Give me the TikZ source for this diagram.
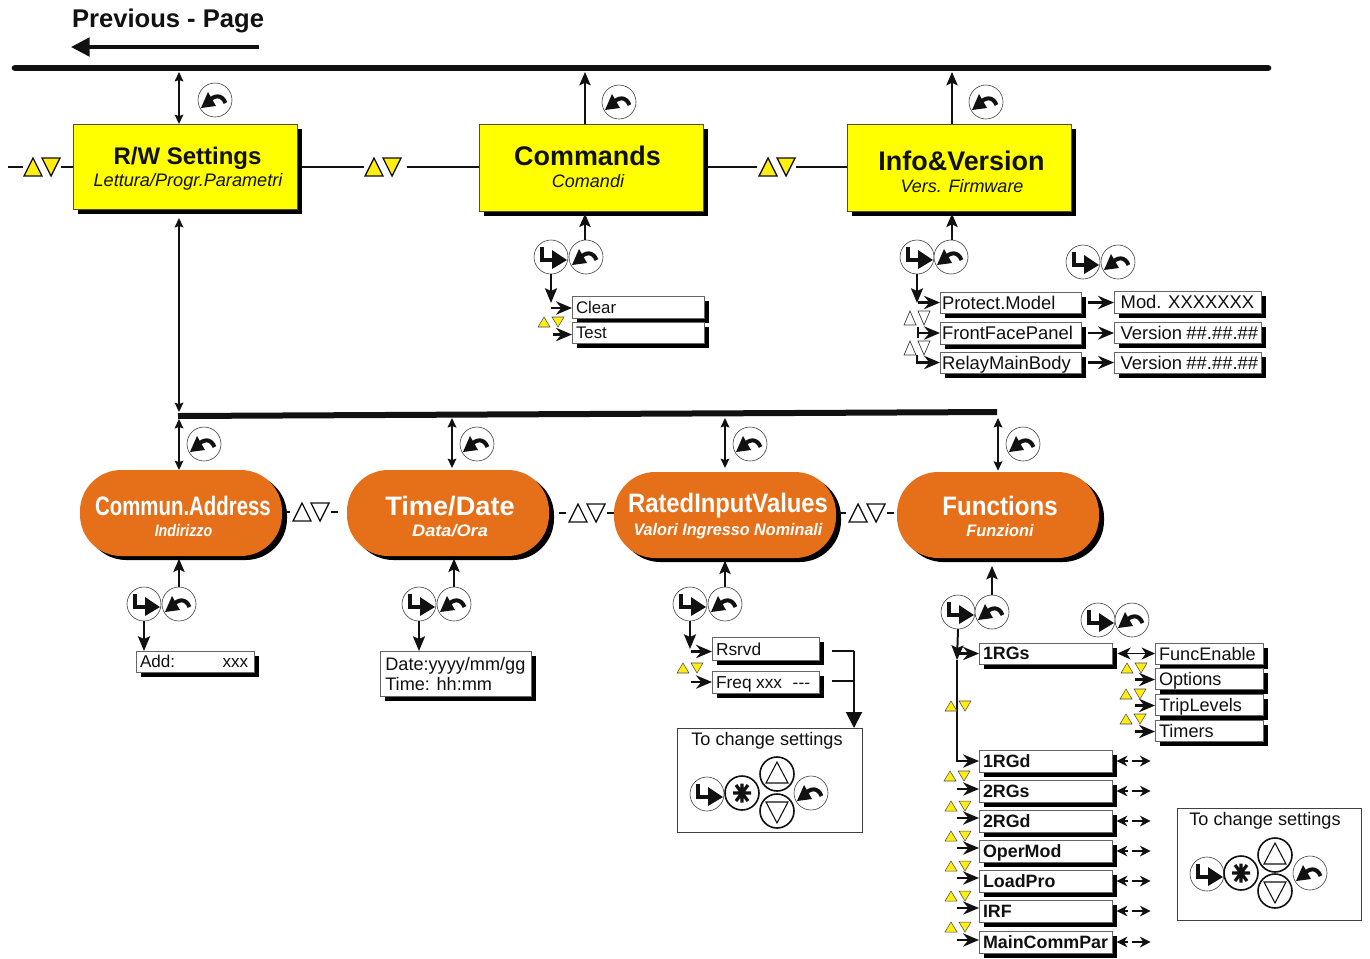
\documentclass[tikz,border=0pt]{standalone}
\usepackage{fontspec}
\usepackage{graphicx}
\setmainfont{Liberation Sans}
\usetikzlibrary{arrows.meta}
\definecolor{boxyellow}{HTML}{FFFF00}
\definecolor{triyellow}{HTML}{FFEE10}
\definecolor{boxorange}{HTML}{E6701A}
\definecolor{ink}{HTML}{111111}
\tikzset{
  x=0.75pt,y=-0.75pt,
  every node/.style={text=ink,inner sep=0pt,outer sep=0pt},
  heavy/.style={draw=ink,line width=1.8pt,-{Stealth[length=12pt,width=10pt,inset=4pt]}},
  thin arrow/.style={draw=ink,line width=1.15pt,{Stealth[length=7pt,width=6.5pt,inset=1pt]}-{Stealth[length=7pt,width=6.5pt,inset=1pt]}},
  up arrow/.style={draw=ink,line width=1.4pt,-{Stealth[length=10pt,width=8.5pt,inset=2pt]}},
  down arrow/.style={draw=ink,line width=1.5pt,-{Stealth[length=11pt,width=9pt,inset=2pt]}},
  big down/.style={draw=ink,line width=1.5pt,-{Triangle[length=12pt,width=12pt]}},
  wire/.style={draw=ink,line width=1.2pt},
  bus/.style={draw=ink,line width=5pt,line cap=round},
  tri/.style={draw=ink,line width=1pt,line join=miter},
  smalltri/.style={draw=black!70,line width=0.4pt,line join=miter},
  whitetri/.style={draw=black!80,line width=0.5pt,line join=miter},
  btn/.style={circle,draw=black!75,line width=0.45pt,minimum size=25.5pt,fill=white},
  btnbold/.style={circle,draw=ink,line width=1.2pt,minimum size=25.5pt,fill=white},
  yellowbox/.style={draw=black!70,line width=0.5pt,fill=boxyellow},
  orangebox/.style={draw=none,fill=boxorange,rounded corners=31pt},
  plainbox/.style={draw=black!60,line width=0.5pt,fill=white,align=left,text depth=0pt},
  framebox/.style={draw=black!75,line width=0.5pt,fill=white},
  ytitle/.style={font=\bfseries\fontsize{20.2}{23}\selectfont},
  ysub/.style={font=\itshape\fontsize{13.5}{16}\selectfont},
  otitle/.style={text=white,font=\bfseries\fontsize{20}{24}\selectfont},
  osub/.style={text=white,font=\bfseries\itshape\fontsize{12.5}{15}\selectfont},
}
\newcommand\shbox[6]{%
  \fill[black] ({#3+5},{#4+5}) rectangle ({#5+5},{#6+5});
  \node[#1,anchor=center,minimum width={(#5-#3)*0.75pt},minimum height={(#6-#4)*0.75pt}] (#2) at ({(#3+#5)/2},{(#4+#6)/2}) {};}
\newcommand\shpill[6]{%
  \fill[black,rounded corners=31pt] ({#3+5},{#4+4}) rectangle ({#5+5},{#6+4});
  \node[#1,anchor=center,minimum width={(#5-#3)*0.75pt},minimum height={(#6-#4)*0.75pt}] (#2) at ({(#3+#5)/2},{(#4+#6)/2}) {};}
\newcommand\lbox[6]{%
  \fill[black] ({#2+5},{#3+5}) rectangle ({#4+5},{#5+5});
  \node[plainbox,anchor=center,minimum height={(#5-#3)*0.75pt},text width={(#4-#2-8)*0.75pt},inner xsep=3pt] (#1) at ({(#2+#4)/2},{(#3+#5)/2}) {#6};}
\newcommand\updn[4]{%
  \path[tri,fill=#4] ({#1-2*#3},{#2+#3}) -- ({#1-#3},{#2-#3}) -- (#1,{#2+#3}) -- cycle;
  \path[tri,fill=#4] (#1,{#2-#3}) -- ({#1+2*#3},{#2-#3}) -- ({#1+#3},{#2+#3}) -- cycle;}
\newcommand\updnsmall[2]{%
  \path[smalltri,fill=triyellow] ({#1-13},{#2+5}) -- ({#1-7},{#2-5}) -- ({#1-1},{#2+5}) -- cycle;
  \path[smalltri,fill=triyellow] ({#1+1},{#2-5}) -- ({#1+13},{#2-5}) -- ({#1+7},{#2+5}) -- cycle;}
\newcommand\updnwhite[2]{%
  \path[whitetri,fill=white] ({#1-13},{#2+7}) -- ({#1-7},{#2-7}) -- ({#1-1},{#2+7}) -- cycle;
  \path[whitetri,fill=white] ({#1+1},{#2-7}) -- ({#1+13},{#2-7}) -- ({#1+7},{#2+7}) -- cycle;}
\newcommand\entbtn[3]{%
  \node[btn] (#1) at (#2,#3) {};
  \begin{scope}[shift={(#2,#3)}]
    \draw[ink,line width=3.6pt] (-9,-10) -- (-9,3) -- (5,3);
    \fill[ink] (1,-7) -- (16,3) -- (1,12) -- cycle;
  \end{scope}}
\newcommand\escbtn[3]{%
  \node[btn] (#1) at (#2,#3) {};
  \begin{scope}[shift={(#2,#3)}]
    \draw[ink,line width=3pt] (-6,1) .. controls (-1,-5) and (7,-6) .. (10.5,3);
    \fill[ink] (-14,8) -- (-7,-8) -- (1,6) -- cycle;
  \end{scope}}
\newcommand\starbtn[3]{%
  \node[btnbold] (#1) at (#2,#3) {};
  \begin{scope}[shift={(#2,#3)}]
    \draw[ink,line width=2.4pt] (-9,0) -- (9,0) (-6,-8) -- (6,8) (-6,8) -- (6,-8) (0,-9.5) -- (0,9.5);
  \end{scope}}
\newcommand\upbtn[3]{%
  \node[btnbold] (#1) at (#2,#3) {};
  \draw[ink,line width=0.8pt,line join=miter] ({#2-11},{#3+9}) -- (#2,{#3-12}) -- ({#2+11},{#3+9}) -- cycle;}
\newcommand\dnbtn[3]{%
  \node[btnbold] (#1) at (#2,#3) {};
  \draw[ink,line width=0.8pt,line join=miter] ({#2-11},{#3-9}) -- (#2,{#3+12}) -- ({#2+11},{#3-9}) -- cycle;}
% arrow into west side of a box: name, length px, rise px
\newcommand\into[3]{\draw[heavy] ([xshift=-#2*0.75pt,yshift=#3*0.75pt]#1.west) -- ([yshift=#3*0.75pt]#1.west);}
\newcommand\outdash[1]{%
  \draw[draw=ink,line width=1.3pt,-{Stealth[length=8pt,width=8pt,inset=2.5pt]}] ([xshift=12pt]#1.east) -- ([xshift=3.5pt]#1.east);
  \draw[draw=ink,line width=1.3pt,-{Stealth[length=8pt,width=8pt,inset=2.5pt]}] ([xshift=15pt]#1.east) -- ([xshift=29pt]#1.east);}
\newcommand\sq[2]{\scalebox{#1}[1]{#2}}
\begin{document}
\begin{tikzpicture}
\useasboundingbox (0,0) rectangle (1370,958);
\fill[white] (0,0) rectangle (1370,958);

% title
\node[anchor=west,font=\bfseries\fontsize{19.2}{22}\selectfont] (title) at (72,20.5) {Previous - Page};
\coordinate (prevA) at (259,47);
\coordinate (prevB) at (71,47);
\draw[draw=ink,line width=2.4pt,-{Triangle[length=14pt,width=14pt]}] (prevA) -- (prevB);

% buses
\coordinate (busL) at (15,68);
\coordinate (busR) at (1268,68);
\draw[bus] (busL) -- (busR);
\coordinate (subL) at (178,416);
\coordinate (subR) at (997,412);
\draw[bus,line width=4.5pt,line cap=butt] (subL) -- (subR);

% yellow boxes
\shbox{yellowbox}{rw}{73}{124}{297}{209}
\shbox{yellowbox}{cmd}{479}{124}{703}{211}
\shbox{yellowbox}{info}{847}{124}{1071}{211}
\node[ytitle,font=\bfseries\fontsize{18}{21}\selectfont] (rwT) at (187.5,158) {R/W Settings};
\node[ysub,font=\itshape\fontsize{13.6}{16}\selectfont] (rwS) at (188,181.5) {Lettura/Progr.Parametri};
\node[ytitle] (cmdT) at (587.5,156) {Commands};
\node[ysub] (cmdS) at (588,181) {Comandi};
\node[ytitle] (infoT) at (961.5,161) {Info\&Version};
\node[ysub] (infoS) at (962,186) {Vers. Firmware};

% orange boxes
\shpill{orangebox}{addr}{80}{470}{282}{556}
\shpill{orangebox}{tdate}{347}{470}{549}{556}
\shpill{orangebox}{rated}{614}{472}{836}{558}
\shpill{orangebox}{func}{897}{472}{1099}{558}
\node[otitle] (addrT) at (183,506) {\sq{0.765}{Commun.Address}};
\node[osub] (addrS) at (183.5,531) {\sq{0.85}{Indirizzo}};
\node[otitle] (tdateT) at (450,506) {\sq{1.02}{Time/Date}};
\node[osub] (tdateS) at (450,531) {\sq{1.09}{Data/Ora}};
\node[otitle] (ratedT) at (728,506) {\sq{0.893}{RatedInputValues}};
\node[osub] (ratedS) at (728,531) {\sq{0.97}{Valori Ingresso Nominali}};
\node[otitle] (funcT) at (1000,506) {\sq{0.905}{Functions}};
\node[osub] (funcS) at (1000,531) {\sq{0.98}{Funzioni}};

% bus connections
\coordinate (t1) at (179,72);
\draw[thin arrow] (t1) -- (t1 |- rw.north);
\coordinate (t2) at (585,72);
\draw[up arrow] (t2 |- cmd.north) -- (t2);
\coordinate (t3) at (952,72);
\draw[up arrow] (t3 |- info.north) -- (t3);
\coordinate (s0) at (179,218);
\coordinate (s0b) at (179,412);
\draw[thin arrow] (s0) -- (s0b);
\coordinate (s1) at (179,419);
\draw[thin arrow] (s1) -- (s1 |- addr.north);
\coordinate (s2) at (452,418);
\draw[thin arrow] (s2) -- ([yshift=1.5pt]s2 |- tdate.north);
\coordinate (s3) at (725,418);
\draw[thin arrow] (s3) -- ([yshift=3pt]s3 |- rated.north);
\coordinate (s4) at (998,418);
\draw[thin arrow] (s4) -- ([yshift=1pt]s4 |- func.north);

% upper row escape buttons
\escbtn{e1}{215}{100}
\escbtn{e2}{619}{102}
\escbtn{e3}{986}{102}
\escbtn{e4}{204}{444}
\escbtn{e5}{477}{444}
\escbtn{e6}{750}{444}
\escbtn{e7}{1023}{444}

% horizontal links, upper row
\coordinate (h0) at (8,167);
\coordinate (h1) at (23,167);
\coordinate (h2) at (61,167);
\draw[wire] (h0) -- (h1);
\draw[wire] (h2) -- (h2 -| rw.west);
\updn{42}{167}{9}{triyellow}
\coordinate (h3) at (364,167);
\coordinate (h4) at (407,167);
\draw[wire] ([xshift=3.5pt]rw.east |- h3) -- (h3);
\draw[wire] (h4) -- (h4 -| cmd.west);
\updn{383}{167}{9}{triyellow}
\coordinate (h5) at (757,167);
\coordinate (h6) at (796,167);
\draw[wire] ([xshift=3.5pt]cmd.east |- h5) -- (h5);
\draw[wire] (h6) -- (h6 -| info.west);
\updn{777}{167}{9}{triyellow}

% horizontal links, lower row
\newcommand\lowlink[2]{%
  \coordinate (lka) at ({#1-28},#2); \coordinate (lkb) at ({#1-21},#2);
  \coordinate (lkc) at ({#1+20},#2); \coordinate (lkd) at ({#1+27},#2);
  \draw[wire] (lka) -- (lkb); \draw[wire] (lkc) -- (lkd);
  \updn{#1}{#2}{9}{white}}
\lowlink{311}{512}
\lowlink{587}{513}
\lowlink{867}{513}

% Commands branch
\entbtn{c1}{551}{257}
\escbtn{c2}{586}{257}
\coordinate (c3) at (585,240);
\draw[up arrow] (c3) -- ([yshift=-2pt]c3 |- cmd.south);
\lbox{clear}{572}{296}{704}{318}{\fontsize{12.6}{15}\selectfont Clear}
\lbox{test}{572}{322}{704}{343}{\fontsize{12.6}{15}\selectfont Test}
\coordinate (c4) at (551,303);
\draw[down arrow] (c1.south) -- (c4);
\into{clear}{21}{-1}
\into{test}{19}{-2}
\updnsmall{551}{322}

% Info branch
\entbtn{i1}{917}{257}
\escbtn{i2}{951}{257}
\entbtn{i3}{1083}{262}
\escbtn{i4}{1118}{262}
\coordinate (i5) at (952,240);
\draw[up arrow] (i5) -- ([yshift=-2pt]i5 |- info.south);
\lbox{pm}{940}{292}{1081}{313}{\mbox{\hspace*{-1.5pt}\fontsize{13.8}{16}\selectfont Protect.Model}}
\lbox{ff}{940}{322}{1081}{344}{\mbox{\hspace*{-1.5pt}\fontsize{13.8}{16}\selectfont FrontFacePanel}}
\lbox{rm}{940}{352}{1081}{373}{\mbox{\hspace*{-1.5pt}\fontsize{13.8}{16}\selectfont RelayMainBody}}
\lbox{mod}{1114}{291}{1261}{313}{\mbox{\hspace*{2pt}\fontsize{13.8}{16}\selectfont Mod. XXXXXXX}}
\lbox{v1}{1114}{322}{1261}{343}{\mbox{\hspace*{2pt}\fontsize{13.8}{16}\selectfont Version \#\#.\#\#.\#\#}}
\lbox{v2}{1114}{352}{1261}{373}{\mbox{\hspace*{2pt}\fontsize{13.8}{16}\selectfont Version \#\#.\#\#.\#\#}}
\coordinate (i6) at (917,303);
\draw[down arrow] (i1.south) -- (i6);
\into{pm}{22}{0}
\into{ff}{22}{0}
\coordinate (i7) at (917,355);
\draw[heavy] (i7) |- (rm.west);
\coordinate (i8) at (918,327);
\draw[draw=ink,line width=1.2pt] (i8) -- ++(0,11);
\updnwhite{917}{318}
\updnwhite{917}{348}
\draw[heavy] ([xshift=5pt]pm.east) -- (pm.east -| mod.west);
\draw[heavy] ([xshift=5pt]ff.east) -- (ff.east -| v1.west);
\draw[heavy] ([xshift=5pt]rm.east) -- (rm.east -| v2.west);

% Address branch
\entbtn{a1}{144}{604}
\escbtn{a2}{179}{604}
\coordinate (a3) at (179,587);
\draw[up arrow] (a3) -- ([yshift=-2pt]a3 |- addr.south);
\lbox{addbox}{136}{651}{254}{672}{\fontsize{12.8}{15}\selectfont\makebox[62pt][l]{Add:}xxx}
\draw[down arrow] (a1.south) -- (a1.south |- addbox.north);

% Time branch
\entbtn{d1}{419}{604}
\escbtn{d2}{454}{604}
\coordinate (d3) at (454,587);
\draw[up arrow] (d3) -- ([yshift=-2pt]d3 |- tdate.south);
\lbox{datebox}{380}{651}{531}{696}{\fontsize{13.6}{15.2}\selectfont\raisebox{7.5pt}[\height][0pt]{\hspace*{1pt}Date:yyyy/mm/gg}\\\raisebox{4.5pt}[\height][0pt]{\hspace*{1pt}Time: hh:mm}}
\draw[down arrow] (d1.south) -- (d1.south |- datebox.north);

% Rated branch
\entbtn{r1}{690}{604}
\escbtn{r2}{725}{604}
\coordinate (r3) at (725,587);
\draw[up arrow] (r3) -- ([yshift=-2pt]r3 |- rated.south);
\lbox{rsrvd}{712}{637}{819}{660}{\fontsize{13}{16}\selectfont\raisebox{-1.2pt}{Rsrvd}}
\lbox{freq}{712}{671}{819}{693}{\fontsize{13}{16}\selectfont\raisebox{-1pt}{Freq xxx\hspace{8pt}{-}{-}{-}}}
\coordinate (r4) at (690,649);
\draw[down arrow] (r1.south) -- (r4);
\into{rsrvd}{21}{-3}
\into{freq}{21}{0}
\updnsmall{690}{668}
% settings panel 1
\node[framebox,minimum width=138.75pt,minimum height=78pt] (panelA) at (769.5,780) {};
\node[font=\fontsize{13.6}{16}\selectfont] (panelAt) at (767,741) {To change settings};
\coordinate (r5) at (854,651);
\coordinate (r6) at (854,681);
\draw[wire] ([xshift=9.5pt]rsrvd.east |- r5) -- (r5);
\draw[wire] ([xshift=9.5pt]freq.east |- r6) -- (r6);
\draw[big down] (r5) -- (r5 |- panelA.north);
\entbtn{pa1}{707}{794}
\starbtn{pa2}{742}{793}
\upbtn{pa3}{777}{774}
\dnbtn{pa4}{777}{811}
\escbtn{pa5}{811}{793}

% Functions branch
\entbtn{f1}{958}{612}
\escbtn{f2}{992}{612}
\draw[up arrow] (f2.north) -- ([yshift=-6pt]f2.north |- func.south);
\entbtn{f4}{1098}{620}
\escbtn{f5}{1132}{620}
\newcommand\bfb[6]{\lbox{#1}{#2}{#3}{#4}{#5}{\bfseries\fontsize{13.4}{16}\selectfont #6}}
\newcommand\rgbox[6]{\lbox{#1}{#2}{#3}{#4}{#5}{\fontsize{13.6}{16}\selectfont #6}}
\bfb{rgs}{979}{643}{1112}{664}{1RGs}
\rgbox{fe}{1155}{643}{1263}{664}{FuncEnable}
\rgbox{opt}{1155}{668}{1263}{689}{Options}
\rgbox{trip}{1155}{694}{1263}{715}{TripLevels}
\rgbox{tim}{1155}{720}{1263}{741}{Timers}
\bfb{rgd}{979}{750}{1112}{772}{1RGd}
\bfb{rgs2}{979}{780}{1112}{802}{2RGs}
\bfb{rgd2}{979}{810}{1112}{832}{2RGd}
\bfb{oper}{979}{840}{1112}{862}{OperMod}
\bfb{load}{979}{870}{1112}{892}{LoadPro}
\bfb{irf}{979}{900}{1112}{922}{IRF}
\bfb{mcp}{979}{931}{1112}{953}{MainCommPar}
% main vertical line
\coordinate (f6) at (957,660);
\draw[down arrow] (f1.south) -- (f6);
\draw[heavy] (f6) |- (rgd.west);
\updnsmall{958}{706}
\into{rgs}{22}{0}
\into{rgs2}{22}{2}
\into{rgd2}{22}{3}
\into{oper}{22}{3}
\into{load}{22}{3}
\into{irf}{22}{3}
\into{mcp}{22}{2}
\updnsmall{957}{776}
\updnsmall{958}{806}
\updnsmall{958}{836}
\updnsmall{958}{866}
\updnsmall{958}{896}
\updnsmall{958}{927}
% right column
\draw[draw=ink,line width=1.2pt,{Stealth[length=10pt,width=9pt,inset=3pt]}-{Stealth[length=10pt,width=9pt,inset=3pt]}] ([xshift=4pt]rgs.east) -- (fe.west);
\into{opt}{20}{-1}
\into{trip}{20}{-1}
\into{tim}{20}{-1}
\updnsmall{1134}{668}
\updnsmall{1133}{694}
\updnsmall{1133}{719}
\outdash{rgd}
\outdash{rgs2}
\outdash{rgd2}
\outdash{oper}
\outdash{load}
\outdash{irf}
\outdash{mcp}
% settings panel 2
\node[framebox,minimum width=138pt,minimum height=84pt] (panelB) at (1269,864) {};
\node[font=\fontsize{13.6}{16}\selectfont] (panelBt) at (1265,821) {To change settings};
\entbtn{pb1}{1207}{874}
\starbtn{pb2}{1241}{873}
\upbtn{pb3}{1275}{855}
\dnbtn{pb4}{1275}{891}
\escbtn{pb5}{1310}{873}
\end{tikzpicture}
\end{document}
